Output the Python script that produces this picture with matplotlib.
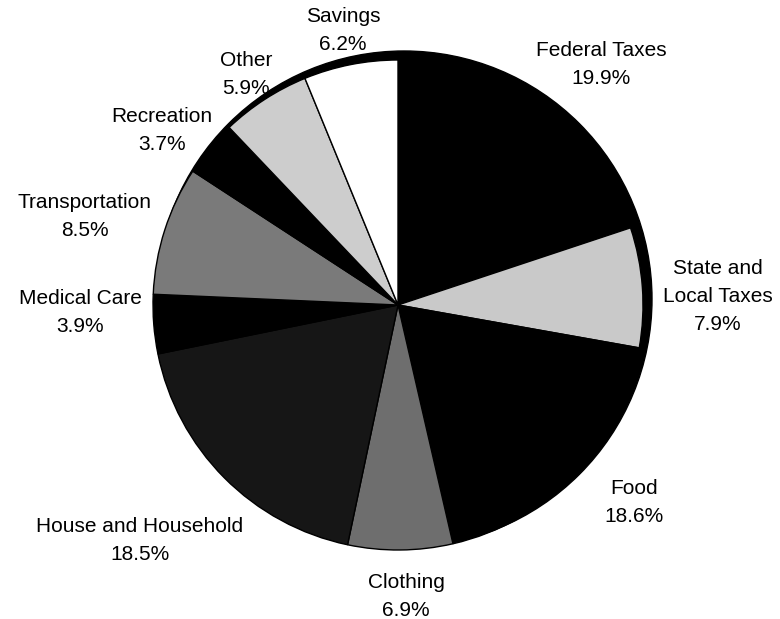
import matplotlib.pyplot as plt
from matplotlib.patches import Circle

categories = [
    "Federal Taxes", "State and\nLocal Taxes", "Food", "Clothing",
    "House and Household", "Medical Care", "Transportation",
    "Recreation", "Other", "Savings",
]
shares = [19.9, 7.9, 18.6, 6.9, 18.5, 3.9, 8.5, 3.7, 5.9, 6.2]

# fill for each wedge, in the same order
fills = [
    "#000000", "#c9c9c9", "#000000", "#6e6e6e", "#161616",
    "#000000", "#7a7a7a", "#000000", "#cdcdcd", "#ffffff",
]
# label block centres in pixel coordinates (x from left, y from top)
label_pos = [
    (601, 65), (718, 296), (634, 502), (406, 597), (140, 540),
    (80, 312), (85, 216), (162, 130), (246, 75), (343, 30),
]

W, H = 780, 619
fig = plt.figure(figsize=(W / 100, H / 100), dpi=100)
fig.set_facecolor("white")
ax = fig.add_axes([0, 0, 1, 1])

cx, cy, r = 398, H - 305, 245

# dark rim showing behind the upper right of the pie
ax.add_patch(Circle((cx + 6, cy + 6), r + 3, color="black", zorder=0))

ax.pie(
    shares,
    colors=fills,
    startangle=90,
    counterclock=False,
    center=(cx, cy),
    radius=r,
    wedgeprops=dict(edgecolor="black", linewidth=1),
)

for name, share, (x, y) in zip(categories, shares, label_pos):
    ax.text(
        x, H - y, f"{name}\n{share}%",
        ha="center", va="center", multialignment="center",
        fontsize=15, family=["Liberation Sans", "DejaVu Sans"],
        linespacing=1.6, color="black",
    )

ax.set_xlim(0, W)
ax.set_ylim(0, H)
ax.set_aspect("equal")
ax.axis("off")

plt.savefig("out.png", dpi=100, facecolor="white")
